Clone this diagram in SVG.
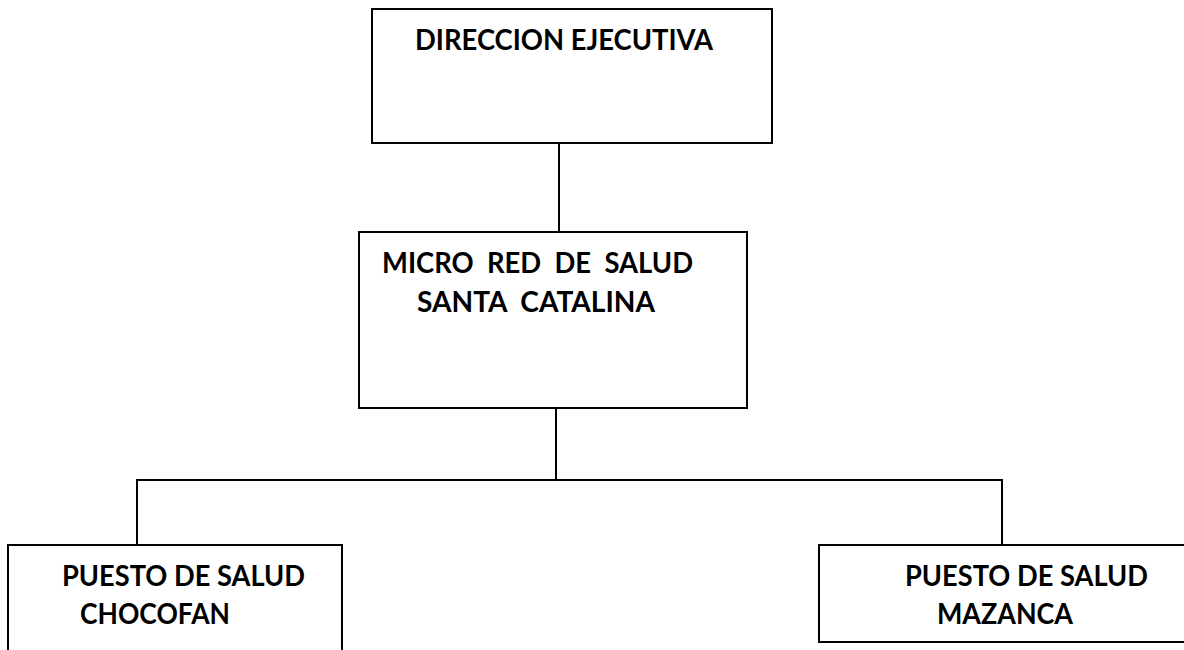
<svg xmlns="http://www.w3.org/2000/svg" width="1184" height="650" viewBox="0 0 1184 650">
<style>
.box{fill:#fff;stroke:#000;stroke-width:2}
.ln{fill:none;stroke:#000;stroke-width:2}
.t{font-family:Lato,"Liberation Sans",sans-serif;font-weight:bold;font-size:28px;fill:#000}
</style>
<rect width="1184" height="650" fill="#fff"/>
<g id="connectors">
<line class="ln" x1="559" y1="143" x2="559" y2="232"/>
<line class="ln" x1="556" y1="408" x2="556" y2="480"/>
<polyline class="ln" points="137,545 137,480 1002,480 1002,545"/>
</g>
<g id="n1">
<rect class="box" x="372" y="9" width="400" height="134"/>
<text class="t" x="415" y="50" textLength="298" lengthAdjust="spacingAndGlyphs">DIRECCION EJECUTIVA</text>
</g>
<g id="n2">
<rect class="box" x="359" y="232" width="388" height="176"/>
<text class="t" x="382" y="273" textLength="311" lengthAdjust="spacingAndGlyphs" xml:space="preserve">MICRO  RED  DE  SALUD</text>
<text class="t" x="417" y="312" textLength="238" lengthAdjust="spacingAndGlyphs" xml:space="preserve">SANTA  CATALINA</text>
</g>
<g id="n3">
<rect class="box" x="8" y="545" width="334" height="120"/>
<text class="t" x="62" y="586" textLength="243" lengthAdjust="spacingAndGlyphs">PUESTO DE SALUD</text>
<text class="t" x="80" y="624" textLength="150" lengthAdjust="spacingAndGlyphs">CHOCOFAN</text>
</g>
<g id="n4">
<rect class="box" x="819" y="545" width="380" height="97"/>
<text class="t" x="905" y="586" textLength="243" lengthAdjust="spacingAndGlyphs">PUESTO DE SALUD</text>
<text class="t" x="937" y="624" textLength="136" lengthAdjust="spacingAndGlyphs">MAZANCA</text>
</g>
</svg>
